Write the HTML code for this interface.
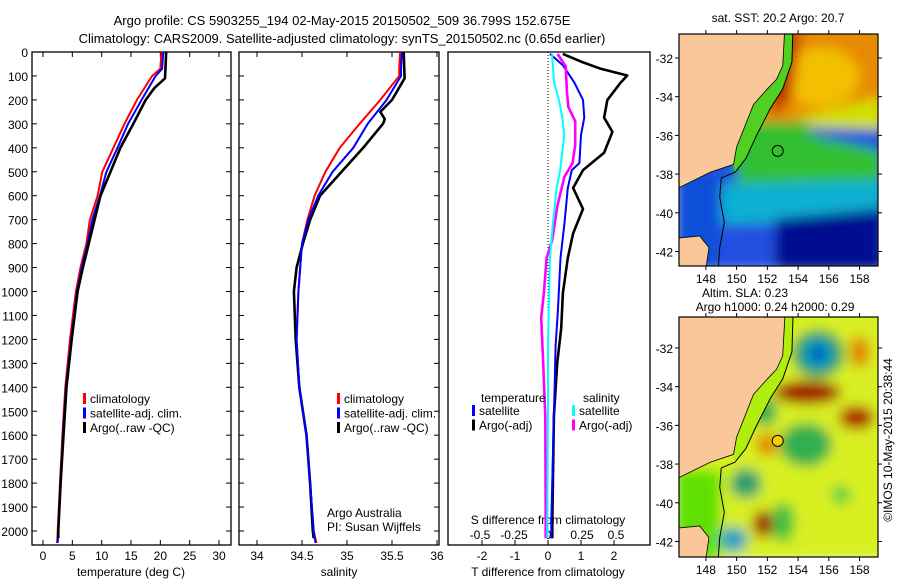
<!DOCTYPE html>
<html><head><meta charset="utf-8"><style>
body{margin:0;background:#fff;}
svg{display:block;font-family:"Liberation Sans",sans-serif;}
text{fill:#000;}
</style></head><body>
<svg id="fig" width="900" height="580" viewBox="0 0 900 580">
<text x="342" y="25" font-size="13" text-anchor="middle">Argo profile: CS 5903255_194 02-May-2015 20150502_509 36.799S 152.675E</text>
<text x="342" y="43" font-size="13" text-anchor="middle">Climatology: CARS2009. Satellite-adjusted climatology: synTS_20150502.nc (0.65d earlier)</text>
<g id="g1"></g>
<g id="g2"></g>
<g id="g3"></g>
<g id="m1"></g>
<g id="m2"></g>
<text transform="translate(892,440) rotate(-90)" font-size="12" text-anchor="middle">©IMOS 10-May-2015 20:38:44</text>
</svg>
<script>
const NS="http://www.w3.org/2000/svg";
// ---------- data ----------
const depthTicks=[0,100,200,300,400,500,600,700,800,900,1000,1100,1200,1300,1400,1500,1600,1700,1800,1900,2000];
const tTicks=[0,5,10,15,20,25,30];
const sTicks=[34,34.5,35,35.5,36];
const dTTicks=[-2,-1,0,1,2];
const dSTicks=[-0.5,-0.25,0,0.25,0.5];
const dSTickLabels=["-0.5","-0.25","0","0.25","0.5"];
const depthClim=[0,70,100,200,300,400,500,600,700,800,900,1000,1200,1400,1600,1800,2000,2050];
const tClim=[20.2,20.0,18.6,16.0,13.9,12.0,10.1,9.3,8.0,7.4,6.4,5.6,4.6,3.8,3.3,2.9,2.5,2.4];
const tSat=[20.5,20.3,19.2,16.8,14.5,12.7,10.8,9.7,8.4,7.6,6.6,5.8,4.8,3.9,3.4,3.0,2.6,2.5];
const depthArgo=[0,110,150,200,300,400,500,600,700,800,900,1000,1200,1400,1600,1800,2000,2030];
const tArgo=[21.0,20.8,19.0,17.5,15.4,13.2,11.5,9.8,8.8,7.8,6.8,5.9,4.9,4.0,3.5,3.0,2.6,2.6];
const sClim=[35.59,35.58,35.58,35.37,35.14,34.92,34.76,34.64,34.56,34.50,34.48,34.46,34.44,34.47,34.55,34.59,34.63,34.66];
const sSat=[35.61,35.60,35.60,35.44,35.23,35.07,34.84,34.68,34.57,34.50,34.48,34.46,34.44,34.47,34.55,34.59,34.63,34.65];
const depthSArgo=[0,110,200,250,280,300,400,500,600,700,800,900,1000,1200,1400,1600,1800,2000,2030];
const sArgo=[35.63,35.64,35.50,35.37,35.42,35.40,35.18,34.94,34.70,34.59,34.51,34.44,34.41,34.43,34.47,34.55,34.59,34.62,34.63];
const depthDT=[8,40,70,98,128,200,274,333,421,493,568,655,758,860,1006,1153,1300,1520,1960,2030];
const dTArgo=[0.45,1.0,1.6,2.4,2.2,1.8,1.7,1.95,1.7,1.06,0.76,1.06,0.76,0.6,0.45,0.4,0.28,0.18,0.13,0.13];
const depthDS=[8,55,128,200,274,347,464,493,568,714,860,1080,1226,1520,1960,2030];
const dTSat=[0.06,0.45,0.8,1.06,1.1,1.0,0.95,0.72,0.6,0.5,0.38,0.3,0.23,0.18,0.1,0.1];
const dSSat=[0.03,0.035,0.045,0.08,0.105,0.12,0.095,0.09,0.063,0.036,0.015,0.005,0.0,0.0,-0.005,-0.005];
const depthDSA=[8,60,170,230,289,391,464,522,640,787,860,1006,1109,1300,1520,1960,2030];
const dSArgo=[0.07,0.13,0.14,0.15,0.2,0.2,0.18,0.12,0.07,0.03,-0.01,-0.03,-0.05,-0.035,-0.02,-0.017,-0.017];
// ---------- helpers ----------
function el(tag,attrs,parent){const e=document.createElementNS(NS,tag);for(const k in attrs)e.setAttribute(k,attrs[k]);(parent||document.getElementById('fig')).appendChild(e);return e;}
const yTop=52,yBot=545;
const yD=d=>yTop+d*0.2395;
function lin(d0,d1,p0,p1){return v=>p0+(v-d0)*(p1-p0)/(d1-d0);}
function frame(g,x0,x1,name){
  const r=el('rect',{x:x0,y:yTop,width:x1-x0,height:yBot-yTop,fill:'none',stroke:'#000','stroke-width':1.3},g);
  
  
  depthTicks.forEach(d=>{const y=yD(d);
    el('line',{x1:x0,x2:x0+5,y1:y,y2:y,stroke:'#000'},g);
    el('line',{x1:x1,x2:x1-5,y1:y,y2:y,stroke:'#000'},g);});
}
function xticks(g,ticks,labels,sx,y,name){
  ticks.forEach((t,i)=>{const x=sx(t);
    el('line',{x1:x,x2:x,y1:yBot,y2:yBot-5,stroke:'#000'},g);
    el('line',{x1:x,x2:x,y1:yTop,y2:yTop+5,stroke:'#000'},g);
    const tx=el('text',{x:x,y:y,'font-size':12,'text-anchor':'middle'},g);tx.textContent=labels[i];
    
    });
}
function line(g,xs,ds,sx,color,w,name){
  const pts=xs.map((v,i)=>sx(v).toFixed(1)+','+yD(ds[i]).toFixed(1)).join(' ');
  const p=el('polyline',{points:pts,fill:'none',stroke:color,'stroke-width':w,'stroke-linejoin':'round'},g);
  
  
}
function txt(g,x,y,s,size,anchor,name){const t=el('text',{x:x,y:y,'font-size':size||12,'text-anchor':anchor||'start'},g);t.textContent=s;
  
  return t;}
function legend(g,x,y,items){items.forEach((it,i)=>{
  el('rect',{x:x,y:y+i*14.5-10,width:3,height:11,fill:it[1]},g);
  txt(g,x+7,y+i*14.5,it[0],12,'start','legend-entry');});}
// ---------- panel 1 ----------
const g1=document.getElementById('g1');
const sxT=lin(0,30,43,219);
frame(g1,32,231,'temperature');
depthTicks.forEach(d=>txt(g1,28,yD(d)+5,String(d),12,'end','depth-tick-label'));
xticks(g1,tTicks,tTicks.map(String),sxT,560,'temperature');
txt(g1,131,576,'temperature (deg C)',12,'middle','temperature-axis-title');
line(g1,tClim,depthClim,sxT,'#f00',2,'temperature-climatology-line');
line(g1,tSat,depthClim,sxT,'#00f',2,'temperature-satellite-line');
line(g1,tArgo,depthArgo,sxT,'#000',2.6,'temperature-argo-line');
legend(g1,83,403,[['climatology','#f00'],['satellite-adj. clim.','#00f'],['Argo(..raw -QC)','#000']]);
// ---------- panel 2 ----------
const g2=document.getElementById('g2');
const sxS=lin(34,36,257,437);
frame(g2,239,439,'salinity');
xticks(g2,sTicks,sTicks.map(String),sxS,560,'salinity');
txt(g2,339,576,'salinity',12,'middle','salinity-axis-title');
line(g2,sClim,depthClim,sxS,'#f00',2,'salinity-climatology-line');
line(g2,sArgo,depthSArgo,sxS,'#000',2.6,'salinity-argo-line');
line(g2,sSat,depthClim,sxS,'#00f',2,'salinity-satellite-line');
legend(g2,337,403,[['climatology','#f00'],['satellite-adj. clim.','#00f'],['Argo(..raw -QC)','#000']]);
txt(g2,327,517,'Argo Australia',12,'start','credit-line-1');
txt(g2,327,531,'PI: Susan Wijffels',12,'start','credit-line-2');
// ---------- panel 3 ----------
const g3=document.getElementById('g3');
const sxDT=lin(0,1,548,581);
const sxDS=lin(0,0.5,548,616);
const r3=el('rect',{x:448,y:yTop,width:202,height:yBot-yTop,fill:'none',stroke:'#000','stroke-width':1.3},g3);


el('line',{x1:548,x2:548,y1:yTop,y2:yBot,stroke:'#000','stroke-dasharray':'1,2'},g3);
dTTicks.forEach(t=>{const x=sxDT(t);el('line',{x1:x,x2:x,y1:yBot,y2:yBot-5,stroke:'#000'},g3);
  txt(g3,x,560,String(t),12,'middle','t-diff-tick-label');});
dSTicks.forEach((t,i)=>{txt(g3,sxDS(t),539,dSTickLabels[i],12,'middle','s-diff-tick-label');});
txt(g3,548,524,'S difference from climatology',12,'middle','s-diff-axis-title');
txt(g3,548,576,'T difference from climatology',12,'middle','t-diff-axis-title');
line(g3,dTArgo,depthDT,sxDT,'#000',2.6,'t-diff-argo-line');
line(g3,dTSat,depthDS,sxDT,'#00f',2,'t-diff-satellite-line');
line(g3,dSArgo,depthDSA,sxDS,'#f0f',2.6,'s-diff-argo-line');
line(g3,dSSat,depthDS,sxDS,'#0ff',2,'s-diff-satellite-line');
txt(g3,481,402,'temperature',12,'start','legend-header-temperature');
txt(g3,583,402,'salinity',12,'start','legend-header-salinity');
legend(g3,472,415,[['satellite','#00f'],['Argo(-adj)','#000']]);
legend(g3,572,415,[['satellite','#0ff'],['Argo(-adj)','#f0f']]);
// ---------- maps ----------
const lonTicks=[148,150,152,154,156,158];
const latTicks=[-32,-34,-36,-38,-40,-42];
const coast=[[153.2,-29.5],[153.0,-32.4],[152.6,-33.1],[152.0,-33.6],[151.1,-34.4],[150.5,-35.6],[150.0,-36.6],[149.8,-37.5],[148.3,-37.9],[146.25,-38.7],[146.25,-29.5]];
const tas=[[146.25,-41.3],[147.6,-41.2],[148.2,-41.8],[148.0,-42.9],[146.25,-42.9]];
const iso=[[153.7,-29.5],[153.6,-32.2],[153.0,-33.6],[152.2,-34.6],[151.3,-36.0],[150.6,-37.2],[149.9,-37.9],[149.0,-38.2],[148.9,-39.2],[149.2,-40.5],[148.9,-41.8],[148.8,-42.9]];
const coastStrip=[[153.2,-29.5],[153.7,-29.5],[153.6,-32.2],[153.0,-33.6],[152.2,-34.6],[151.3,-36.0],[150.6,-37.2],[149.9,-37.9],[149.8,-37.5],[150.0,-36.6],[150.5,-35.6],[151.1,-34.4],[152.0,-33.6],[152.6,-33.1],[153.0,-32.4]];
function drawMap(id,top,H,latTop,title,fills,stripColor,dotColor){
  const g=document.getElementById(id);
  const L=679,R=878,B=top+H;
  const sx=lin(146.25,159.2,L,R), sy=lin(latTop,latTop-H/19.35,top,B);
  const cp=el('clipPath',{id:'c'+id},g);el('rect',{x:L,y:top,width:R-L,height:H},cp);
  const inner=el('g',{'clip-path':'url(#c'+id+')'},g);
  const blur=el('filter',{id:'b'+id},g);el('feGaussianBlur',{stdDeviation:6},blur);
  const fg=el('g',{filter:'url(#b'+id+')'},inner);
  fills.forEach(f=>{
    if(f.t==='rect'){const r=el('rect',{x:sx(f.a[0]),y:sy(f.a[1]),width:sx(f.a[2])-sx(f.a[0]),height:sy(f.a[3])-sy(f.a[1]),fill:f.c},fg);
      }
    else if(f.t==='ell'){const e=el('ellipse',{cx:sx(f.a[0]),cy:sy(f.a[1]),rx:f.a[2],ry:f.a[3],fill:f.c},fg);
      }
    else{const p=el('polygon',{points:f.a.map(q=>sx(q[0])+','+sy(q[1])).join(' '),fill:f.c},fg);
      }
  });
  const st=el('polygon',{points:coastStrip.map(q=>sx(q[0])+','+sy(q[1])).join(' '),fill:stripColor},inner);
  
  const land=el('polygon',{points:coast.map(q=>sx(q[0])+','+sy(q[1])).join(' '),fill:'#fac898',stroke:'#000','stroke-width':0.8},inner);
  
  const t2=el('polygon',{points:tas.map(q=>sx(q[0])+','+sy(q[1])).join(' '),fill:'#fac898',stroke:'#000','stroke-width':0.8},inner);
  
  const is=el('polyline',{points:iso.map(q=>sx(q[0])+','+sy(q[1])).join(' '),fill:'none',stroke:'#000','stroke-width':1},inner);
  
  const dot=el('circle',{cx:sx(152.675),cy:sy(-36.799),r:5.5,fill:dotColor,stroke:'#000','stroke-width':1},inner);
  
  const fr=el('rect',{x:L,y:top,width:R-L,height:H,fill:'none',stroke:'#000','stroke-width':1.2},g);
  
  lonTicks.forEach(v=>{const x=sx(v);el('line',{x1:x,x2:x,y1:top,y2:top-4,stroke:'#000'},g);el('line',{x1:x,x2:x,y1:B,y2:B+4,stroke:'#000'},g);
    txt(g,x,B+17,String(v),12,'middle','longitude-tick-label');});
  latTicks.forEach(v=>{const y=sy(v);el('line',{x1:L,x2:L-4,y1:y,y2:y,stroke:'#000'},g);el('line',{x1:R,x2:R+4,y1:y,y2:y,stroke:'#000'},g);
    txt(g,L-6,y+5,String(v),12,'end','latitude-tick-label');});
  title.forEach(s=>txt(g,s[1],s[2],s[0],12,'middle','map-title'));
}
drawMap('m1',34,232,-30.76,[['sat. SST: 20.2 Argo: 20.7',778,22]],[
 {t:'rect',a:[146,-29,160,-43],c:'#2050e0'},
 {t:'rect',a:[146,-29,160,-35.5],c:'#e88a00'},
 {t:'ell',a:[155.5,-33],c:'#f2c000',r:[38,30]},
 {t:'poly',a:[[153.3,-30.5],[154.2,-30.5],[153.6,-34],[152.5,-35],[152,-34]],c:'#c03000'},
 {t:'poly',a:[[150.5,-35.3],[154.5,-35.3],[155,-36],[159.5,-36.8],[159.5,-38.5],[155,-39],[150,-39.5],[150,-37]],c:'#30c030'},
 {t:'poly',a:[[153.5,-34.6],[154.5,-35],[159.5,-34],[159.5,-35.7],[155,-35.6]],c:'#d0e000'},
 {t:'poly',a:[[149,-38.5],[159.5,-38.3],[159.5,-40],[154,-40.5],[149,-40.6]],c:'#10b0d0'},
 {t:'poly',a:[[152.5,-40.3],[159.5,-39.8],[159.5,-43],[152.5,-43]],c:'#001090'},
 {t:'poly',a:[[146,-38],[148.8,-38],[148.8,-43],[146,-43]],c:'#1050d8'}
].map(f=>f.t==='ell'?{t:'ell',a:[f.a[0],f.a[1],f.r[0],f.r[1]],c:f.c}:f),'#50d020','#30c030');
drawMap('m2',317,240,-30.4,[['Altim. SLA: 0.23',745,297],['Argo h1000: 0.24 h2000: 0.29',775,311]],[
 {t:'rect',a:[146,-29,160,-43],c:'#d8f020'},
 {t:'ell',a:[155.3,-32.3],c:'#20a060',r:[26,24]},
 {t:'ell',a:[155.3,-32.3],c:'#00a0e0',r:[14,14]},
 {t:'ell',a:[155.3,-32.3],c:'#0030a0',r:[7,8]},
 {t:'ell',a:[154.6,-34.3],c:'#a00000',r:[34,12]},
 {t:'ell',a:[157.8,-35.6],c:'#b02000',r:[18,12]},
 {t:'ell',a:[158,-32.2],c:'#e08000',r:[10,16]},
 {t:'ell',a:[151.8,-35.3],c:'#30b050',r:[13,14]},
 {t:'ell',a:[154.5,-37],c:'#30b050',r:[26,22]},
 {t:'ell',a:[152,-37],c:'#e09000',r:[12,12]},
 {t:'ell',a:[150.6,-39],c:'#20a070',r:[16,15]},
 {t:'ell',a:[153,-41],c:'#40c040',r:[12,20]},
 {t:'ell',a:[151.7,-41.1],c:'#a01000',r:[10,14]},
 {t:'ell',a:[149.8,-41.9],c:'#20a0c0',r:[14,13]},
 {t:'ell',a:[156.8,-39.6],c:'#60d040',r:[10,10]},
 {t:'poly',a:[[146,-38.3],[149.0,-38.3],[148.9,-43],[146,-43]],c:'#60e000'}
].map(f=>f.t==='ell'?{t:'ell',a:[f.a[0],f.a[1],f.r[0],f.r[1]],c:f.c}:f),'#b0ee10','#f0d000');
</script>
</body></html>
